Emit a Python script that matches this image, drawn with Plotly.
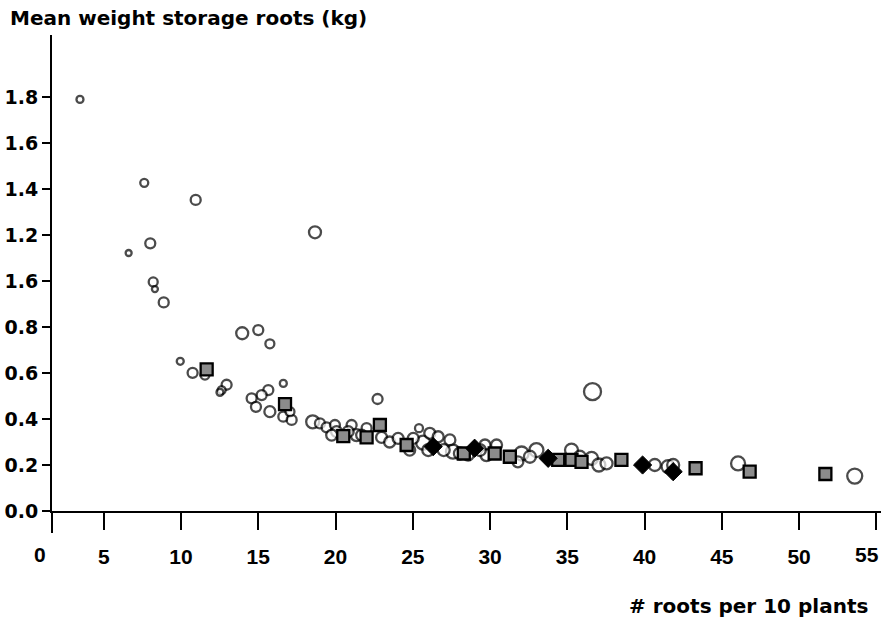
import plotly.graph_objects as go

# ---- data ----
circle_x = [3.46, 7.62, 10.95, 18.67, 6.61, 8.01, 8.20, 8.31, 8.88, 13.96, 15.0, 15.75,
            9.95, 10.75, 11.55, 12.95, 12.63, 12.52, 16.62, 15.65, 15.22, 14.57, 14.85,
            15.75, 16.62, 17.16, 17.05, 22.72, 18.52, 18.99, 19.42, 19.96, 20.07, 21.04,
            21.36, 22.01, 22.98, 23.5, 24.05, 25.4, 25.67, 24.8, 36.63, 26.1, 26.64,
            27.4, 27.6, 28.58, 29.67, 29.77, 30.42, 32.04, 31.8, 33.0, 35.27, 36.57,
            37.04, 37.54, 40.66, 41.52, 41.85, 46.05, 53.6,
            27.0, 28.05, 29.34, 32.58, 35.81, 25.03, 26.0, 19.75, 20.82, 21.69]
circle_y = [1.79, 1.427, 1.353, 1.212, 1.122, 1.164, 0.996, 0.965, 0.907, 0.773, 0.787, 0.727,
            0.651, 0.601, 0.591, 0.549, 0.526, 0.516, 0.555, 0.526, 0.504, 0.49, 0.453,
            0.432, 0.41, 0.396, 0.432, 0.487, 0.388, 0.381, 0.364, 0.374, 0.345, 0.374,
            0.330, 0.36, 0.32, 0.30, 0.316, 0.36, 0.297, 0.265, 0.519, 0.338, 0.323,
            0.309, 0.258, 0.243, 0.287, 0.243, 0.287, 0.25, 0.214, 0.265, 0.265, 0.229,
            0.2, 0.207, 0.2, 0.193, 0.2, 0.207, 0.152,
            0.265, 0.25, 0.265, 0.236, 0.236, 0.316, 0.265, 0.33, 0.345, 0.33]
circle_size = [7, 8, 10, 12, 6, 10, 9, 6, 10, 12, 10, 9,
               7, 10, 9, 10, 8, 7, 7, 10, 10, 10, 10,
               11, 10, 10, 9, 10, 13, 10, 10, 10, 11, 10,
               12, 10, 11, 11, 11, 8, 14, 11, 17, 11, 11,
               11, 14, 11, 11, 12, 11, 14, 11, 14, 13, 13,
               13, 12, 12, 13, 12, 14, 15,
               12, 12, 12, 12, 12, 11, 12, 11, 11, 11]

square_x = [11.66, 16.73, 20.5, 22.01, 22.87, 24.6, 28.3, 30.3, 31.28, 34.41, 35.27,
            35.92, 38.5, 43.3, 46.8, 51.7]
square_y = [0.616, 0.465, 0.326, 0.32, 0.374, 0.287, 0.25, 0.25, 0.236, 0.222, 0.222,
            0.214, 0.222, 0.186, 0.171, 0.161]

diamond_x = [26.32, 29.0, 33.76, 39.87, 41.85]
diamond_y = [0.28, 0.273, 0.229, 0.2, 0.171]

x_tick_vals = [5, 10, 15, 20, 25, 30, 35, 40, 45, 50, 55]
x_tick_text = ["5", "10", "15", "20", "25", "30", "35", "40", "45", "50", "55"]
y_tick_vals = [0.0, 0.2, 0.4, 0.6, 0.8, 1.0, 1.2, 1.4, 1.6, 1.8]
y_tick_text = ["0.0", "0.2", "0.4", "0.6", "0.8", "1.6", "1.2", "1.4", "1.6", "1.8"]

FONT = "DejaVu Sans"
TICKFONT = "Liberation Sans"
LABEL_Y = -0.0924  # paper y of the x tick labels drawn as annotations

# last x label sits at the right edge: it is drawn as an annotation shifted left
shown_x_text = x_tick_text[:-1] + [""]

fig = go.Figure()
fig.add_trace(go.Scatter(
    x=circle_x, y=circle_y, mode="markers",
    marker=dict(symbol="circle", size=circle_size, color="white",
                line=dict(color="black", width=2.3)),
    cliponaxis=False))
fig.add_trace(go.Scatter(
    x=square_x, y=square_y, mode="markers",
    marker=dict(symbol="square", size=12, color="#8c8c8c",
                line=dict(color="black", width=2.3)),
    cliponaxis=False))
fig.add_trace(go.Scatter(
    x=diamond_x, y=diamond_y, mode="markers",
    marker=dict(symbol="diamond", size=14, color="black",
                line=dict(color="black", width=1)),
    cliponaxis=False))

fig.update_layout(
    width=883, height=628,
    margin=dict(l=52, r=2, t=35, b=117, autoexpand=False),
    plot_bgcolor="white", paper_bgcolor="white",
    showlegend=False,
    font=dict(family=FONT, color="black"),
)
fig.update_xaxes(
    range=[1.65, 55.3], tickvals=x_tick_vals, ticktext=shown_x_text,
    ticks="outside", ticklen=17, tickwidth=1.5, tickcolor="black",
    showline=True, linecolor="black", linewidth=2,
    showgrid=False, zeroline=False, automargin=False,
    tickfont=dict(family=TICKFONT, size=21, weight="bold", color="black"),
    ticklabelstandoff=9,
)
fig.update_yaxes(
    range=[0, 2.07], tickvals=y_tick_vals, ticktext=y_tick_text,
    ticks="outside", ticklen=8, tickwidth=1.5, tickcolor="black",
    showline=True, linecolor="black", linewidth=2,
    showgrid=False, zeroline=False, automargin=False,
    tickfont=dict(family=FONT, size=19, weight="bold", color="black"),
)

# y-axis line continues a little below the x axis
fig.add_shape(type="line", xref="paper", yref="paper", x0=0, x1=0, y0=0, y1=-0.046,
              line=dict(color="black", width=2))

fig.add_annotation(text="Mean weight storage roots (kg)", xref="paper", yref="paper",
                   x=-0.0531, y=1.0357, xanchor="left", yanchor="middle", showarrow=False,
                   font=dict(family=FONT, size=20, weight="bold", color="black"))
fig.add_annotation(text="# roots per 10 plants", xref="paper", yref="paper",
                   x=0.9867, y=-0.1996, xanchor="right", yanchor="middle", showarrow=False,
                   font=dict(family=FONT, size=20, weight="bold", color="black"))
fig.add_annotation(text="0", xref="paper", yref="paper",
                   x=-0.0145, y=LABEL_Y, xanchor="center", yanchor="middle", showarrow=False,
                   font=dict(family=TICKFONT, size=21, weight="bold", color="black"))
fig.add_annotation(text=x_tick_text[-1], xref="x", yref="paper",
                   x=x_tick_vals[-1], y=LABEL_Y, xanchor="right", yanchor="middle",
                   xshift=5, showarrow=False,
                   font=dict(family=TICKFONT, size=21, weight="bold", color="black"))

fig.write_html("out.html")
